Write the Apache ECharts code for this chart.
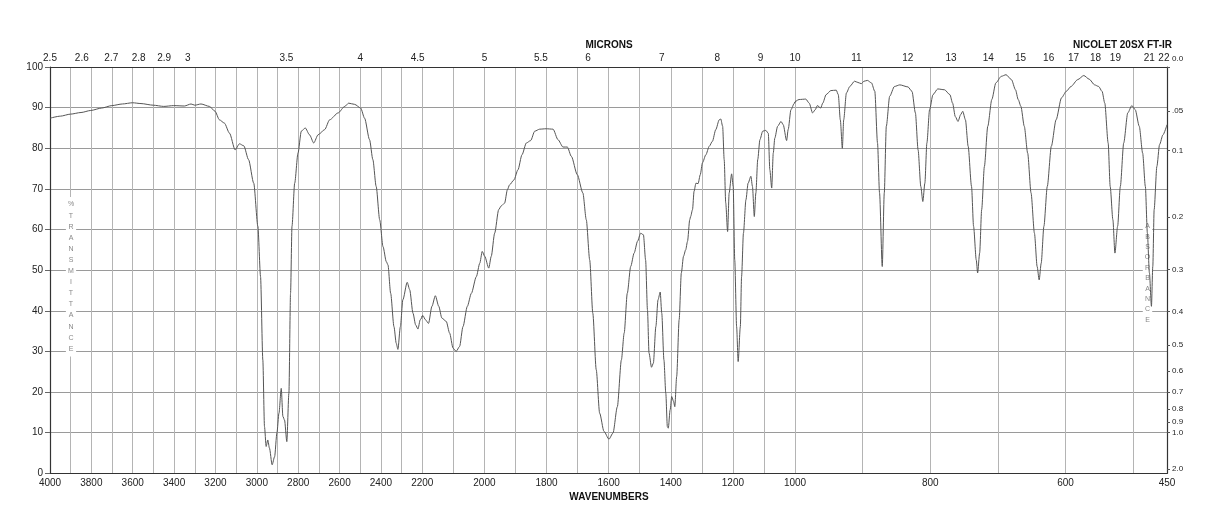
<!DOCTYPE html>
<html><head><meta charset="utf-8">
<script src="https://cdn.jsdelivr.net/npm/echarts@6/dist/echarts.min.js"></script>
<style>html,body{margin:0;padding:0;background:#fff}#c{width:1218px;height:528px}</style>
</head><body><div id="c"></div>
<script>
// ---- spectrum data (wavenumber cm-1, %T) ----
const wavenumbers = [
4000,3950,3901,3850,3803,3750,3701,3650,3601,3560,3501,3450,3402,3350,3318,3300,3270,3229,3202,3181,
3157,3132,3105,3084,3063,3040,3015,2995,2982,2971,2963,2955,2947,2939,2926,2914,2903,2893,2882,2874,
2866,2855,2845,2837,2830,2817,2801,2785,2766,2745,2725,2704,2672,2648,2607,2575,2556,2527,2498,2479,
2455,2439,2423,2406,2390,2374,2366,2353,2337,2326,2318,2306,2294,2273,2261,2245,2232,2221,2210,2198,
2190,2180,2169,2158,2147,2137,2123,2112,2101,2091,2080,2069,2055,2042,2026,2015,2007,1999,1986,1978,
1967,1954,1946,1935,1926,1919,1905,1892,1879,1865,1851,1838,1822,1801,1779,1763,1747,1733,1720,1701,
1683,1672,1661,1651,1640,1629,1615,1599,1586,1572,1559,1550,1540,1529,1518,1507,1497,1488,1481,1475,
1470,1462,1456,1448,1441,1434,1429,1422,1416,1411,1408,1402,1397,1391,1387,1381,1373,1366,1359,1352,
1346,1339,1336,1330,1325,1319,1312,1305,1298,1287,1276,1266,1255,1244,1239,1233,1228,1223,1217,1212,
1204,1199,1194,1188,1183,1176,1172,1166,1158,1151,1142,1137,1131,1126,1120,1113,1104,1094,1086,1081,
1075,1070,1065,1056,1045,1038,1027,1022,1013,1002,994,984,979,974,970,967,962,959,954,947,
939,936,933,930,928,924,919,912,907,902,898,893,887,882,878,875,871,868,865,860,
853,845,833,827,822,818,814,811,808,805,801,796,789,779,771,767,763,759,755,752,
748,744,739,736,732,730,727,724,720,715,709,703,695,688,680,674,670,666,661,656,
651,646,642,639,636,632,627,621,614,606,599,592,582,573,565,557,551,546,542,537,
534,530,527,523,519,514,508,502,497,491,486,482,479,476,473,471,469,465,461,456,450];
const transmittance = [
87.4,87.9,88.4,88.8,89.3,89.9,90.5,90.9,91.2,91.0,90.6,90.3,90.5,90.4,90.9,90.6,90.9,90.3,89.1,87.0,
86.2,83.7,79.6,81.1,80.6,77.2,71.4,60.8,48.4,27.9,11.5,6.6,8.2,6.2,2.1,4.1,9.9,14.8,20.9,14.0,
13.1,7.8,19.7,44.3,60.8,71.4,78.8,84.2,85.0,83.3,81.3,83.3,84.6,87.0,88.7,90.3,91.1,90.8,89.9,87.4,
82.1,77.2,70.6,62.4,55.8,52.1,51.3,44.3,36.1,32.0,30.5,36.1,42.7,47.0,45.2,39.4,36.5,35.5,37.8,38.8,
37.8,36.9,41.1,43.7,41.1,38.2,37.4,34.5,30.8,30.0,31.2,36.1,41.1,44.3,48.4,51.7,54.6,53.4,50.5,53.4,
59.1,64.9,65.8,66.5,69.8,71.0,72.2,74.7,78.4,81.3,81.9,84.2,84.7,84.8,84.7,82.1,80.3,80.3,78.0,73.5,
69.0,62.4,52.5,39.4,25.5,14.8,10.3,8.4,9.9,16.4,27.9,34.5,44.3,50.9,54.2,57.1,59.1,58.7,52.5,40.2,
29.6,26.1,27.1,36.1,42.7,44.6,39.4,27.9,19.7,11.5,11.1,15.6,18.9,17.7,16.4,23.8,37.8,49.3,53.4,55.0,
57.1,62.4,63.2,64.9,69.4,71.4,71.3,73.5,76.4,78.4,80.5,81.7,84.6,87.0,87.2,85.4,77.2,66.5,59.5,69.0,
73.7,70.6,52.5,36.1,27.5,36.1,48.4,59.1,67.3,71.4,73.1,70.6,63.2,69.0,77.2,82.1,84.2,84.4,83.7,74.7,
70.2,78.8,82.5,85.4,86.6,85.8,81.9,84.6,89.5,91.1,92.0,92.1,91.1,88.7,89.5,90.5,89.9,91.1,93.2,94.2,
94.3,93.2,87.0,80.0,87.0,93.6,95.2,96.5,96.2,95.9,96.5,96.7,96.1,94.0,81.3,69.0,50.9,69.0,85.4,92.8,
95.2,95.6,95.1,94.0,88.7,79.6,70.6,66.9,71.4,81.3,89.5,93.2,94.6,94.4,93.2,91.1,87.8,86.6,88.3,89.1,
87.0,80.5,70.6,60.8,52.5,49.3,54.2,64.9,75.5,85.4,92.0,96.1,97.7,98.1,96.9,94.4,92.0,90.3,85.4,78.8,
69.0,59.1,50.9,47.6,51.7,60.8,70.6,80.5,87.0,92.4,94.0,95.2,96.9,97.9,97.0,95.6,95.2,94.0,91.1,81.3,
70.6,62.4,54.2,60.8,70.6,81.3,88.7,90.5,89.5,85.4,78.8,70.6,59.1,49.3,41.1,50.9,64.9,75.5,80.9,83.3,85.8];

// ---- axis tick labels ----
const wavenumberLabels = [4000,3800,3600,3400,3200,3000,2800,2600,2400,2200,2000,1800,1600,1400,1200,1000,800,600,450];
const micronLabels = [2.5,2.6,2.7,2.8,2.9,3,3.5,4,4.5,5,5.5,6,7,8,9,10,11,12,13,14,15,16,17,18,19,21,22];
const transmittanceLabels = [0,10,20,30,40,50,60,70,80,90,100];
const absorbanceValues = [0,0.05,0.1,0.2,0.3,0.4,0.5,0.6,0.7,0.8,0.9,1.0,2.0];
const absorbanceLabels = ['0.0','.05','0.1','0.2','0.3','0.4','0.5','0.6','0.7','0.8','0.9','1.0','2.0'];
const gridStep = 100;

// three linear segments of the chart paper
const segments = [
  {lo: 2200, hi: 4000, left: 50, width: 372.3},
  {lo: 1000, hi: 2200, left: 422.3, width: 372.7},
  {lo: 450, hi: 1000, left: 795, width: 372}
];
const TOP = 67, HEIGHT = 406.3;
const FONT = '"Liberation Sans", Arial, sans-serif';

// segment 0 owns both of its ends; later segments own their low end only
function inSeg(w, s, i) { return i === 0 ? (w >= s.lo && w <= s.hi) : (w >= s.lo && w < s.hi); }
function segData(s) {
  const out = [];
  const n = wavenumbers.length;
  const inR = k => k >= 0 && k < n && wavenumbers[k] >= s.lo && wavenumbers[k] <= s.hi;
  for (let i = 0; i < n; i++) {
    if (inR(i) || inR(i - 1) || inR(i + 1)) out.push([wavenumbers[i], transmittance[i]]);
  }
  return out;
}
function splitVals(s) {
  const v = [];
  for (let w = s.hi; w >= s.lo; w -= gridStep) if (w % gridStep === 0) v.push(w);
  return v;
}

const grids = [], xAxes = [], yAxes = [], series = [];
segments.forEach((s, i) => {
  grids.push({left: s.left, width: s.width, top: TOP, height: HEIGHT, containLabel: false});
});
segments.forEach((s, i) => {
  xAxes.push({
    type: 'value', gridIndex: i, position: 'bottom', min: s.lo, max: s.hi, inverse: true,
    axisLine: {show: true, onZero: false, lineStyle: {color: '#333', width: 1.2}},
    axisTick: {show: false, customValues: splitVals(s)},
    splitLine: {show: true, lineStyle: {color: '#b4b4b4', width: 1}},
    axisLabel: {
      customValues: wavenumberLabels.filter(w => i === 2 ? (w >= s.lo && w < s.hi) : (w >= s.lo && w <= s.hi))
        .filter(w => !(i === 1 && w === s.hi)),
      showMinLabel: true, showMaxLabel: true, margin: 5,
      color: '#222', fontSize: 10, fontFamily: FONT,
      formatter: v => String(Math.round(v))
    }
  });
});
segments.forEach((s, i) => {
  const vals = micronLabels.map(m => 10000 / m).filter(w => inSeg(w, s, i));
  xAxes.push({
    type: 'value', gridIndex: i, position: 'top', min: s.lo, max: s.hi, inverse: true,
    axisLine: {show: true, onZero: false, lineStyle: {color: '#333', width: 1.2}},
    axisTick: {show: false, customValues: vals},
    splitLine: {show: false},
    axisLabel: {
      customValues: vals, showMinLabel: true, showMaxLabel: true, margin: 4,
      color: '#222', fontSize: 10, fontFamily: FONT,
      formatter: v => String(Math.round(10000 / v * 10) / 10)
    }
  });
});
segments.forEach((s, i) => {
  yAxes.push({
    type: 'value', gridIndex: i, position: 'left', min: 0, max: 100, interval: 10,
    axisLine: {show: i === 0, lineStyle: {color: '#333', width: 1.2}},
    axisTick: {show: i === 0, length: 5, lineStyle: {color: '#666'}},
    splitLine: {show: true, lineStyle: {color: '#9a9a9a', width: 1}},
    axisLabel: {show: i === 0, margin: 7, color: '#222', fontSize: 10, fontFamily: FONT,
      customValues: transmittanceLabels}
  });
});
const absT = absorbanceValues.map(a => 100 * Math.pow(10, -a));
yAxes.push({
  type: 'value', gridIndex: 2, position: 'right', min: 0, max: 100,
  axisLine: {show: true, lineStyle: {color: '#333', width: 1.2}},
  axisTick: {show: true, length: 3, customValues: absT, lineStyle: {color: '#555'}},
  splitLine: {show: false},
  axisLabel: {
    customValues: absT, showMinLabel: true, showMaxLabel: true, margin: 5,
    color: '#222', fontSize: 8, fontFamily: FONT,
    rich: {up: {fontSize: 8, fontFamily: FONT, color: '#222', padding: [0, 0, 16, 0]}},
    formatter: v => {
      let best = 0;
      absT.forEach((t, k) => { if (Math.abs(t - v) < Math.abs(absT[best] - v)) best = k; });
      return best === 0 ? '{up|' + absorbanceLabels[best] + '}' : absorbanceLabels[best];
    }
  }
});
segments.forEach((s, i) => {
  series.push({
    type: 'line', xAxisIndex: i, yAxisIndex: i, data: segData(s),
    showSymbol: false, symbol: 'none', clip: true, z: 5,
    smooth: 0.25, smoothMonotone: 'x',
    lineStyle: {color: '#555', width: 1}
  });
});

function vtext(str, x, y, lh) {
  return {type: 'text', x: x, y: y, z: 1,
    style: {text: str.split('').join('\n'), fill: '#888', font: '7px ' + FONT,
      align: 'center', textAlign: 'center', verticalAlign: 'top', textVerticalAlign: 'top',
      lineHeight: lh, backgroundColor: '#fff', padding: [2, 2]}};
}

const chart = echarts.init(document.getElementById('c'), null, {renderer: 'canvas'});
chart.setOption({
  animation: false,
  backgroundColor: '#fff',
  grid: grids, xAxis: xAxes, yAxis: yAxes, series: series,
  graphic: [
    {type: 'text', x: 609, y: 45, style: {text: 'MICRONS', fill: '#111', font: 'bold 10px ' + FONT,
      align: 'center', textAlign: 'center', verticalAlign: 'middle', textVerticalAlign: 'middle'}},
    {type: 'text', x: 1172, y: 45, style: {text: 'NICOLET 20SX FT-IR', fill: '#111', font: 'bold 10px ' + FONT,
      align: 'right', textAlign: 'right', verticalAlign: 'middle', textVerticalAlign: 'middle'}},
    {type: 'text', x: 609, y: 497, style: {text: 'WAVENUMBERS', fill: '#111', font: 'bold 10px ' + FONT,
      align: 'center', textAlign: 'center', verticalAlign: 'middle', textVerticalAlign: 'middle'}},
    vtext('%TRANSMITTANCE', 71, 197, 11.1),
    vtext('ABSORBANCE', 1147.5, 219, 10.4)
  ]
});
</script></body></html>
